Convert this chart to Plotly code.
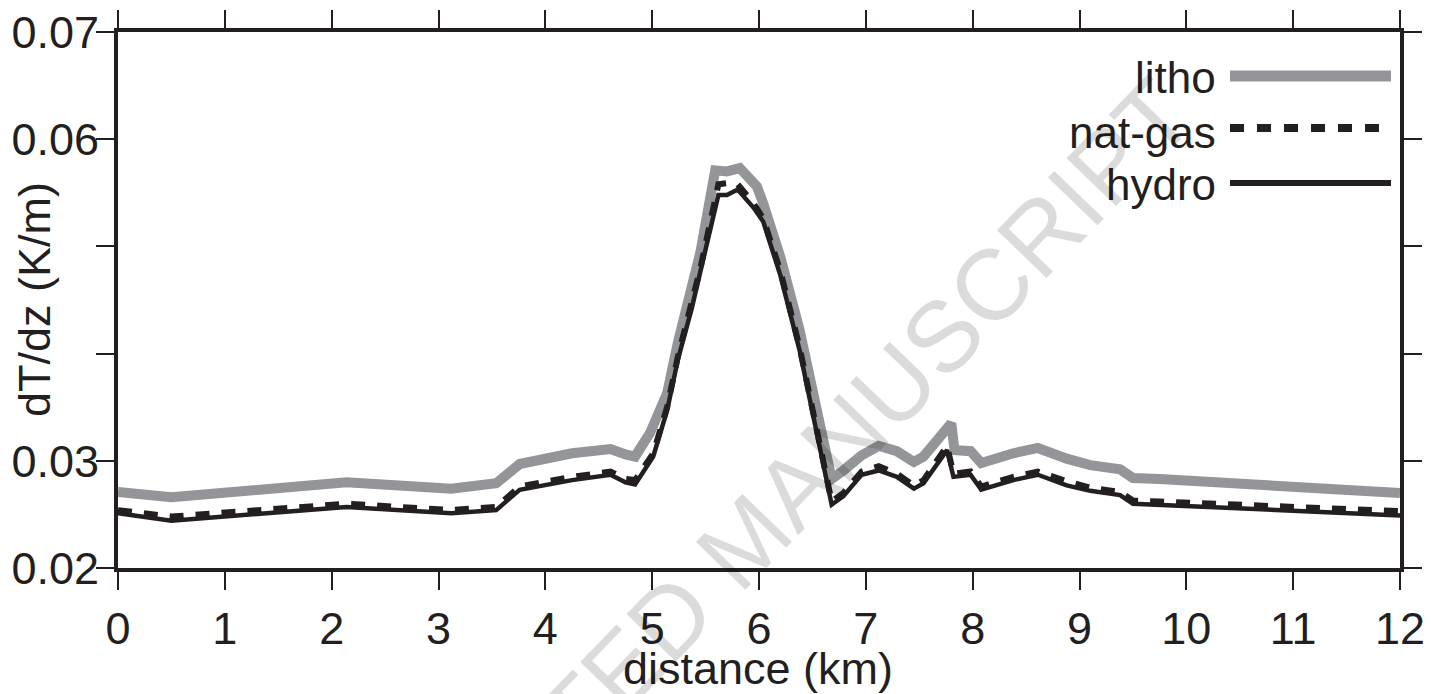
import plotly.graph_objects as go

# ---- data ----
litho_km = [0.00, 0.50, 2.14, 3.12, 3.54, 3.76, 4.25, 4.61, 4.75, 4.84, 4.98, 5.14, 5.24, 5.37,
            5.45, 5.59, 5.70, 5.82, 5.98, 6.04, 6.20, 6.38, 6.68, 6.79, 6.96, 7.12, 7.29, 7.45,
            7.54, 7.80, 7.83, 7.98, 8.08, 8.38, 8.61, 8.88, 9.10, 9.38, 9.50, 9.75, 12.0]
litho = [0.0271, 0.0266, 0.0280, 0.0274, 0.0279, 0.0297, 0.0307, 0.0311, 0.0306, 0.0304, 0.0326,
         0.0363, 0.0410, 0.0457, 0.0494, 0.0571, 0.0570, 0.0573, 0.0556, 0.0540, 0.0490, 0.0422,
         0.0283, 0.0291, 0.0305, 0.0314, 0.0309, 0.0299, 0.0304, 0.0335, 0.0310, 0.0309, 0.0298,
         0.0307, 0.0312, 0.0302, 0.0296, 0.0292, 0.0284, 0.0283, 0.0270]

fluid_km = [0.00, 0.50, 2.14, 3.12, 3.54, 3.76, 4.25, 4.61, 4.75, 4.84, 5.01, 5.14, 5.24, 5.37,
            5.45, 5.62, 5.70, 5.80, 5.95, 6.04, 6.20, 6.38, 6.68, 6.79, 6.96, 7.12, 7.29, 7.45,
            7.54, 7.76, 7.82, 7.98, 8.08, 8.38, 8.61, 8.88, 9.10, 9.38, 9.50, 9.75, 12.0]
natgas = [0.0254, 0.0248, 0.0260, 0.0254, 0.0257, 0.0276, 0.0285, 0.0290, 0.0283, 0.0282, 0.0307,
          0.0350, 0.0397, 0.0445, 0.0479, 0.0558, 0.0559, 0.0558, 0.0540, 0.0526, 0.0477, 0.0406,
          0.0262, 0.0270, 0.0290, 0.0295, 0.0288, 0.0277, 0.0282, 0.0314, 0.0288, 0.0290, 0.0276,
          0.0285, 0.0290, 0.0281, 0.0275, 0.0271, 0.0263, 0.0262, 0.0253]
hydro = [0.0251, 0.0244, 0.0257, 0.0251, 0.0254, 0.0273, 0.0282, 0.0287, 0.0280, 0.0278, 0.0304,
         0.0347, 0.0394, 0.0442, 0.0476, 0.0548, 0.0548, 0.0553, 0.0536, 0.0523, 0.0473, 0.0403,
         0.0259, 0.0267, 0.0287, 0.0291, 0.0285, 0.0274, 0.0279, 0.0310, 0.0285, 0.0287, 0.0273,
         0.0282, 0.0287, 0.0277, 0.0272, 0.0268, 0.0260, 0.0259, 0.0249]

x_ticks = list(range(0, 13))
y_ticks = [0.02, 0.03, 0.04, 0.05, 0.06, 0.07]
y_ticktext = ["0.02", "0.03", "", "", "0.06", "0.07"]

series_names = ["litho", "nat-gas", "hydro"]

# ---- styling ----
INK = "#231f20"
GREY = "#939598"
FONT = "Liberation Sans, Arial, sans-serif"
W, H = 1431, 694
ML, MR, MT, MB = 118, 31, 32, 126
PW, PH = W - ML - MR, H - MT - MB


def px_to_paper(xp, yp):
    return (xp - ML) / PW, (H - MB - yp) / PH


fig = go.Figure()
fig.add_trace(go.Scatter(x=litho_km, y=litho, mode="lines", name=series_names[0],
                         line=dict(color=GREY, width=10), showlegend=False))
fig.add_trace(go.Scatter(x=fluid_km, y=natgas, mode="lines", name=series_names[1],
                         line=dict(color=INK, width=6, dash="14px,12px"), showlegend=False))
fig.add_trace(go.Scatter(x=fluid_km, y=hydro, mode="lines", name=series_names[2],
                         line=dict(color=INK, width=4.5), showlegend=False))

axis_common = dict(showline=True, linewidth=4, linecolor=INK, mirror="allticks",
                   ticks="outside", ticklen=18, tickwidth=1.5, tickcolor=INK,
                   showgrid=False, zeroline=False, automargin=False,
                   tickfont=dict(family=FONT, size=45, color=INK))

fig.update_xaxes(range=[0, 12], tickvals=x_ticks, ticktext=[str(v) for v in x_ticks],
                 **axis_common)
fig.update_yaxes(range=[0.02, 0.07], tickvals=y_ticks, ticktext=y_ticktext,
                 ticklabelstandoff=-12, **axis_common)

annotations = []
# axis titles
tx, ty = px_to_paper(758, 668)
annotations.append(dict(x=tx, y=ty, xref="paper", yref="paper", text="distance (km)",
                        xanchor="center", yanchor="middle",
                        showarrow=False, font=dict(family=FONT, size=45, color=INK)))
tx, ty = px_to_paper(34, 300)
annotations.append(dict(x=tx, y=ty, xref="paper", yref="paper", text="dT/dz (K/m)",
                        textangle=-90, showarrow=False, xanchor="center", yanchor="middle",
                        font=dict(family=FONT, size=45, color=INK)))

# custom legend (text left of line sample)
shapes = []
leg_text_y = [78, 132, 185]
leg_line_y = [76, 128, 183]
leg_styles = [dict(color=GREY, width=11), dict(color=INK, width=8, dash="14px,13px"),
              dict(color=INK, width=6)]
for name, tyy, lyy, st in zip(series_names, leg_text_y, leg_line_y, leg_styles):
    ax, ay = px_to_paper(1218, tyy)
    annotations.append(dict(x=ax, y=ay, xref="paper", yref="paper", text=name,
                            xanchor="right", yanchor="middle", showarrow=False,
                            font=dict(family=FONT, size=44, color=INK)))
    x0, y0 = px_to_paper(1230, lyy)
    x1, _ = px_to_paper(1391, lyy)
    shapes.append(dict(type="line", xref="paper", yref="paper", x0=x0, x1=x1, y0=y0, y1=y0,
                       line=st))

# faint watermark
wx, wy = px_to_paper(745, 540)
annotations.append(dict(x=wx, y=wy, xref="paper", yref="paper", text="ACCEPTED MANUSCRIPT",
                        textangle=-46, showarrow=False, xanchor="center", yanchor="middle",
                        font=dict(family=FONT, size=100, color="rgba(0,0,0,0.14)")))

fig.update_layout(width=W, height=H, margin=dict(l=ML, r=MR, t=MT, b=MB, autoexpand=False),
                  paper_bgcolor="white", plot_bgcolor="white",
                  annotations=annotations, shapes=shapes, showlegend=False)

fig.write_html("out.html")
